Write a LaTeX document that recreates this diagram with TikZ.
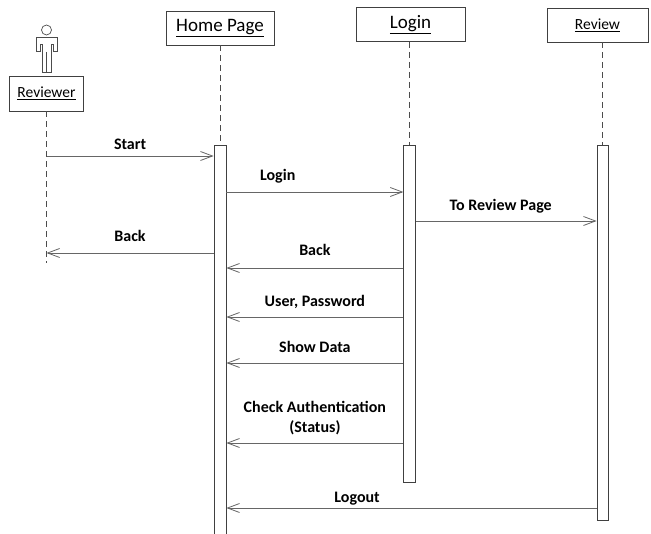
\documentclass[tikz,border=0pt]{standalone}
\usepackage{fontspec}
\setmainfont{Carlito}
\usetikzlibrary{arrows.meta}

\begin{document}
\begin{tikzpicture}[x=1pt,y=-1pt,
    head/.style={draw=black!75,rectangle,line width=0.8pt,minimum height=34pt,font=\fontsize{19}{22}\selectfont},
    actbar/.style={draw=black!75,rectangle,line width=0.8pt,fill=white,minimum width=12pt,anchor=north},
    lifeline/.style={draw=black!70,line width=0.7pt,dash pattern=on 6pt off 4pt},
    msg/.style={draw=black!60,line width=0.8pt,-{Straight Barb[length=12pt,width=9pt]}},
    lbl/.style={font=\bfseries\fontsize{16}{20}\selectfont,inner sep=0pt,anchor=base,yshift=10pt}]
    \useasboundingbox (0,0) rectangle (651,534);

    % objects
    \node[head,minimum width=108pt] (home) at (220,28) {\underline{Home Page}};
    \node[head,minimum width=109pt] (login) at (410.5,24.5) {\underline{Login}};
    \node[head,minimum width=101pt,font=\fontsize{15.5}{18}\selectfont] (review) at (597.5,25) {\underline{Review}};
    \node[head,minimum width=74pt,minimum height=35pt,font=\fontsize{15.5}{18}\selectfont] (reviewer) at (46.5,93.5) {\underline{Reviewer}};

    % actor
    \draw[black!70,line width=0.7pt] (46.5,30) circle (5pt);
    \draw[black!70,line width=0.7pt] (42,72) -- (42,44) -- (40,44) -- (40,51) -- (36,51) -- (36,37) -- (57,37) -- (57,51) -- (53,51) -- (53,44) -- (51,44) -- (51,72) -- cycle (46.5,52) -- (46.5,72);

    % lifelines
    \coordinate (revend) at (46.5,263);
    \draw[lifeline] (reviewer.south) -- (revend);
    \node[actbar,minimum height=395pt] (homebar) at (220,145) {};
    \node[actbar,minimum width=11.5pt,minimum height=337pt] (loginbar) at (409.5,145) {};
    \node[actbar,minimum width=11pt,minimum height=375pt] (reviewbar) at (602.5,145) {};
    \draw[lifeline] (home.south) -- (homebar.north);
    \draw[lifeline] (login.south -| loginbar.north) -- (loginbar.north);
    \draw[lifeline] (review.south -| reviewbar.north) -- (reviewbar.north);

    % messages
    \coordinate (m1) at (0,156);
    \coordinate (m2) at (0,192);
    \coordinate (m3) at (0,221);
    \coordinate (m4) at (0,253);
    \coordinate (m5) at (0,268);
    \coordinate (m6) at (0,317);
    \coordinate (m7) at (0,363);
    \coordinate (m8) at (0,443);
    \coordinate (m9) at (0,508);
    \draw[msg] (revend |- m1) -- (homebar.west |- m1) node[lbl,midway,yshift=-4pt] {Start};
    \draw[msg] (homebar.east |- m2) -- (loginbar.west |- m2) node[lbl,pos=0.29,yshift=1pt] {Login};
    \draw[msg] (loginbar.east |- m3) -- (reviewbar.west |- m3) node[lbl,pos=0.47] {To Review Page};
    \draw[msg] (homebar.west |- m4) -- (revend |- m4) node[lbl,midway,yshift=1pt] {Back};
    \draw[msg] (loginbar.west |- m5) -- (homebar.east |- m5) node[lbl,midway,yshift=2pt] {Back};
    \draw[msg] (loginbar.west |- m6) -- (homebar.east |- m6) node[lbl,midway] {User, Password};
    \draw[msg] (loginbar.west |- m7) -- (homebar.east |- m7) node[lbl,midway] {Show Data};
    \draw[msg] (loginbar.west |- m8) -- (homebar.east |- m8) node[lbl,midway,anchor=south,align=center,yshift=-2pt] {Check Authentication\\(Status)};
    \draw[msg] (reviewbar.west |- m9) -- (homebar.east |- m9) node[lbl,pos=0.647,yshift=-5pt] {Logout};
\end{tikzpicture}
\end{document}
